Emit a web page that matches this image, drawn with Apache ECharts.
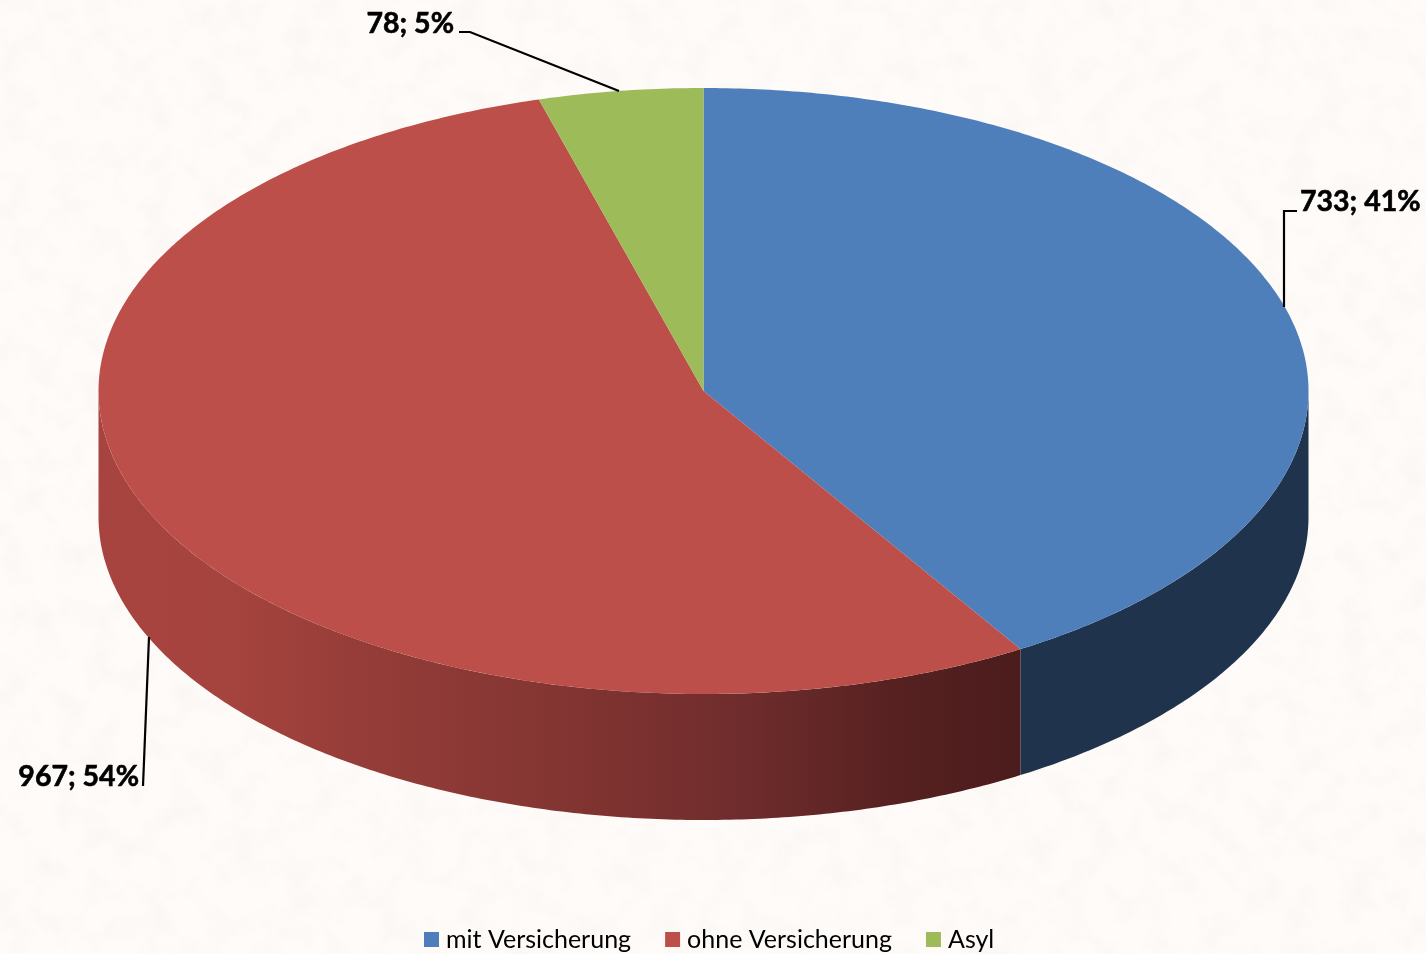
<!DOCTYPE html>
<html>
<head>
<meta charset="utf-8">
<style>
html,body{margin:0;padding:0;background-color:#fefbf8}
/* paper grain behind the transparent chart */
body{background-image:url("data:image/svg+xml,%3Csvg xmlns='http://www.w3.org/2000/svg' width='1426' height='954'%3E%3Cfilter id='n' x='0' y='0' width='100%25' height='100%25'%3E%3CfeTurbulence type='fractalNoise' baseFrequency='0.035' numOctaves='4' seed='7'/%3E%3CfeColorMatrix values='0 0 0 0 0.84 0 0 0 0 0.74 0 0 0 0 0.72 1.1 0 0 0 -0.48'/%3E%3C/filter%3E%3Crect width='1426' height='954' filter='url(%23n)' opacity='0.32'/%3E%3C/svg%3E")}
#chart{width:1426px;height:954px}
</style>
<script src="https://cdn.jsdelivr.net/npm/echarts@6/dist/echarts.min.js"></script>
</head>
<body>
<div id="chart"></div>
<script>
// data
const categories = ['mit Versicherung', 'ohne Versicherung', 'Asyl'];
const values = [733, 967, 78];
const percents = [41, 54, 5];

// look
const topColors = ['#4f7fbb', '#bd4f4a', '#9dbb59'];
const FONT = 'Lato';
const PIE = {cx: 703.5, cy: 391, rx: 605, ry: 303, depth: 126};
const total = values.reduce((a, b) => a + b, 0);

// leader lines and label anchors, one per category
const labelLayout = [
  {x: 1300, y: 202, align: 'left', line: [[1297, 211], [1284, 211], [1284, 307]]},
  {x: 139, y: 777, align: 'right', line: [[143, 786], [149, 637]]},
  {x: 454, y: 24, align: 'right', line: [[459, 32], [470, 32], [619, 91]]}
];

function startAngle(idx) {
  let sum = 0;
  for (let i = 0; i < idx; i++) sum += values[i];
  return sum / total * Math.PI * 2;
}

// angle runs clockwise from 12 o'clock
function rim(a, dy) {
  return [PIE.cx + PIE.rx * Math.sin(a), PIE.cy - PIE.ry * Math.cos(a) + (dy || 0)];
}

function arc(a0, a1, dy) {
  const n = Math.max(2, Math.ceil((a1 - a0) / 0.01));
  const pts = [];
  for (let i = 0; i <= n; i++) pts.push(rim(a0 + (a1 - a0) * i / n, dy));
  return pts;
}

function sideFill(idx) {
  if (idx === 1) {
    return new echarts.graphic.LinearGradient(0, 0, 1, 0, [
      {offset: 0, color: '#a8443f'},
      {offset: 0.15, color: '#a5433e'},
      {offset: 0.3, color: '#943c38'},
      {offset: 0.5, color: '#833532'},
      {offset: 0.7, color: '#6f2c2c'},
      {offset: 0.88, color: '#552020'},
      {offset: 1, color: '#4c1c1d'}
    ]);
  }
  return idx === 0 ? '#1f334d' : '#5c7030';
}

function renderSlice(params) {
  const idx = params.seriesIndex;
  const a0 = startAngle(idx);
  const a1 = a0 + values[idx] / total * Math.PI * 2;
  const children = [];

  // only the front half of the wall shows
  const s0 = Math.max(a0, Math.PI / 2);
  const s1 = Math.min(a1, Math.PI * 1.5);
  if (s1 > s0) {
    children.push({
      type: 'polygon',
      z2: 1,
      shape: {points: arc(s0, s1, 0).concat(arc(s0, s1, PIE.depth).reverse())},
      style: {fill: sideFill(idx)}
    });
  }
  children.push({
    type: 'polygon',
    z2: 2,
    shape: {points: [[PIE.cx, PIE.cy]].concat(arc(a0, a1, 0))},
    style: {fill: topColors[idx]}
  });

  const lab = labelLayout[idx];
  children.push({
    type: 'polyline',
    z2: 3,
    shape: {points: lab.line},
    style: {stroke: '#000', lineWidth: 2.2, fill: null}
  });
  children.push({
    type: 'text',
    z2: 3,
    style: {
      x: lab.x,
      y: lab.y,
      text: values[idx] + '; ' + percents[idx] + '%',
      font: 'bold 28.5px ' + FONT,
      fill: '#000',
      stroke: '#000',
      lineWidth: 0.6,
      align: lab.align,
      verticalAlign: 'middle'
    }
  });
  return {type: 'group', children: children};
}

const chart = echarts.init(document.getElementById('chart'));
chart.setOption({
  animation: false,
  backgroundColor: 'transparent',
  legend: {
    left: 419,
    top: 922,
    itemWidth: 15,
    itemHeight: 15,
    itemGap: 34,
    icon: 'rect',
    data: categories,
    textStyle: {fontFamily: FONT, fontSize: 25, color: '#000', padding: [0, 0, 0, 2]}
  },
  series: categories.map((name, i) => ({
    type: 'custom',
    name: name,
    coordinateSystem: 'none',
    itemStyle: {color: topColors[i]},
    renderItem: renderSlice,
    data: [values[i]]
  }))
});
</script>
</body>
</html>
